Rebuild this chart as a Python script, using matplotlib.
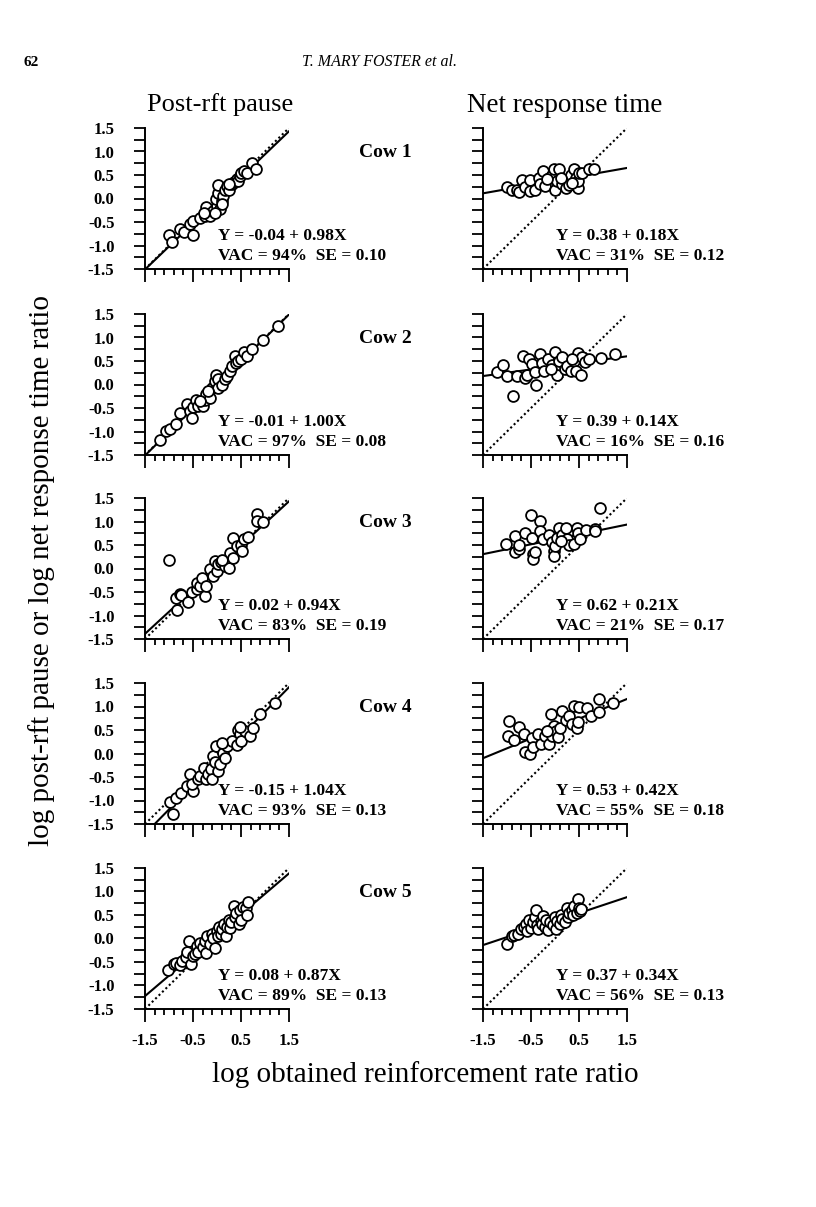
import matplotlib
matplotlib.use("Agg")
import matplotlib.pyplot as plt
import numpy as np
from matplotlib.ticker import MultipleLocator, FixedLocator

plt.rcParams['font.family'] = ['Liberation Serif', 'DejaVu Serif']
plt.rcParams['axes.unicode_minus'] = False

# ---- data (log ratios) ----
cows = ['Cow 1', 'Cow 2', 'Cow 3', 'Cow 4', 'Cow 5']

pause_x = [
    [-1.00, -0.94, -0.77, -0.68, -0.49, -0.56, -0.49, -0.35, -0.25, -0.22, -0.15, -0.08, -0.01, -0.02,
     0.03, 0.03, 0.06, 0.10, 0.13, 0.17, 0.20, 0.26, 0.31, 0.35, 0.41, 0.44, 0.48, 0.51, 0.56, 0.62,
     0.72, 0.81, 0.10, -0.04, -0.28, 0.24],
    [-1.19, -1.06, -0.98, -0.85, -0.78, -0.63, -0.56, -0.53, -0.49, -0.44, -0.39, -0.30, -0.25, -0.22,
     -0.15, -0.11, -0.04, -0.02, 0.03, 0.03, 0.10, 0.17, 0.20, 0.27, 0.31, 0.38, 0.40, 0.44, 0.51,
     0.56, 0.62, 0.72, 0.95, 1.28, -0.35, -0.18],
    [-1.00, -0.83, -0.85, -0.77, -0.74, -0.60, -0.53, -0.42, -0.42, -0.35, -0.31, -0.25, -0.22, -0.15,
     -0.08, -0.04, -0.01, 0.03, 0.08, 0.17, 0.20, 0.26, 0.27, 0.33, 0.34, 0.41, 0.49, 0.53, 0.56,
     0.65, 0.83, 0.83, 0.95, 0.10],
    [-0.92, -0.97, -0.85, -0.74, -0.63, -0.56, -0.49, -0.53, -0.39, -0.35, -0.28, -0.22, -0.18, -0.13,
     -0.11, -0.08, -0.04, -0.02, 0.03, 0.06, 0.13, 0.17, 0.20, 0.31, 0.41, 0.44, 0.48, 0.51, 0.58,
     0.69, 0.76, 0.90, 1.21, 0.47, 0.10],
    [-1.02, -0.90, -0.85, -0.78, -0.72, -0.65, -0.62, -0.58, -0.55, -0.50, -0.45, -0.42, -0.40, -0.35,
     -0.30, -0.25, -0.22, -0.20, -0.15, -0.10, -0.08, -0.05, 0.00, 0.02, 0.05, 0.08, 0.10, 0.15, 0.18,
     0.20, 0.25, 0.28, 0.30, 0.35, 0.38, 0.40, 0.45, 0.48, 0.50, 0.55, 0.60, 0.62, 0.65],
]
pause_y = [
    [-0.78, -0.93, -0.64, -0.72, -0.78, -0.55, -0.48, -0.41, -0.37, -0.19, -0.37, -0.26, -0.16, 0.00,
     0.12, 0.28, -0.23, -0.05, 0.05, 0.19, 0.27, 0.19, 0.30, 0.35, 0.41, 0.37, 0.48, 0.55, 0.58, 0.55,
     0.76, 0.63, -0.12, -0.30, -0.30, 0.30],
    [-1.18, -0.99, -0.95, -0.84, -0.61, -0.41, -0.57, -0.71, -0.48, -0.32, -0.45, -0.45, -0.32, -0.21,
     -0.29, -0.07, 0.07, 0.21, 0.11, -0.07, 0.00, 0.11, 0.18, 0.29, 0.39, 0.61, 0.46, 0.50, 0.54,
     0.69, 0.61, 0.75, 0.95, 1.25, -0.36, -0.14],
    [0.18, -0.88, -0.62, -0.55, -0.57, -0.71, -0.50, -0.44, -0.30, -0.37, -0.21, -0.58, -0.37, 0.00,
     -0.16, 0.16, -0.05, 0.09, 0.14, 0.05, 0.19, 0.02, 0.34, 0.65, 0.23, 0.48, 0.51, 0.37, 0.63,
     0.67, 1.15, 1.01, 0.98, 0.19],
    [-1.29, -1.04, -0.95, -0.83, -0.69, -0.44, -0.79, -0.65, -0.55, -0.48, -0.30, -0.55, -0.44, -0.33,
     -0.55, -0.05, -0.19, 0.16, -0.37, -0.23, 0.02, -0.09, 0.16, 0.26, 0.19, 0.51, 0.41, 0.26, 0.48,
     0.37, 0.55, 0.83, 1.08, 0.56, 0.23],
    [-0.66, -0.55, -0.52, -0.56, -0.48, -0.40, -0.28, -0.05, -0.55, -0.38, -0.32, -0.15, -0.28, -0.10,
     -0.18, -0.05, -0.30, 0.05, -0.12, 0.10, 0.00, -0.20, 0.15, 0.05, 0.25, 0.10, 0.20, 0.30, 0.05,
     0.25, 0.40, 0.22, 0.35, 0.70, 0.45, 0.55, 0.30, 0.60, 0.40, 0.68, 0.65, 0.50, 0.78],
]

net_x = [
    [-1.01, -0.90, -0.80, -0.76, -0.69, -0.62, -0.52, -0.52, -0.41, -0.34, -0.31, -0.24, -0.20, -0.13,
     -0.06, -0.02, 0.01, 0.05, 0.08, 0.15, 0.22, 0.29, 0.33, 0.40, 0.43, 0.47, 0.47, 0.50, 0.57,
     0.71, 0.82, -0.17, 0.12, 0.36],
    [-1.20, -1.08, -1.01, -0.88, -0.80, -0.66, -0.62, -0.59, -0.55, -0.48, -0.41, -0.39, -0.31, -0.27,
     -0.22, -0.15, -0.06, -0.01, 0.01, 0.05, 0.08, 0.15, 0.20, 0.26, 0.33, 0.40, 0.43, 0.47, 0.54,
     0.57, 0.62, 0.71, 0.95, 1.25, 0.36, -0.09],
    [-1.02, -0.83, -0.83, -0.74, -0.74, -0.62, -0.50, -0.48, -0.45, -0.46, -0.41, -0.32, -0.32, -0.24,
     -0.13, -0.06, -0.02, -0.02, 0.01, 0.05, 0.08, 0.15, 0.22, 0.26, 0.29, 0.40, 0.45, 0.48, 0.52,
     0.64, 0.83, 0.83, 0.93, 0.12],
    [-0.95, -0.97, -0.85, -0.74, -0.64, -0.62, -0.52, -0.48, -0.46, -0.36, -0.29, -0.20, -0.13, -0.09,
     -0.09, -0.06, -0.02, 0.03, 0.06, 0.10, 0.15, 0.22, 0.29, 0.36, 0.40, 0.45, 0.48, 0.50, 0.66,
     0.75, 0.92, 0.92, 1.21, -0.16],
    [-1.00, -0.90, -0.85, -0.78, -0.70, -0.65, -0.60, -0.58, -0.55, -0.50, -0.45, -0.42, -0.40, -0.38,
     -0.35, -0.30, -0.28, -0.25, -0.20, -0.18, -0.15, -0.10, -0.05, 0.00, 0.02, 0.05, 0.10, 0.12,
     0.15, 0.20, 0.25, 0.28, 0.30, 0.35, 0.38, 0.40, 0.45, 0.48, 0.50, 0.52, 0.55],
]
net_y = [
    [0.24, 0.19, 0.19, 0.14, 0.39, 0.25, 0.39, 0.16, 0.19, 0.44, 0.30, 0.58, 0.26, 0.44,
     0.49, 0.62, 0.19, 0.37, 0.62, 0.30, 0.23, 0.28, 0.49, 0.63, 0.44, 0.23, 0.37, 0.55, 0.55,
     0.63, 0.63, 0.41, 0.44, 0.34],
    [0.26, 0.41, 0.19, -0.24, 0.18, 0.61, 0.14, 0.21, 0.54, 0.43, 0.26, -0.02, 0.64, 0.46,
     0.29, 0.54, 0.41, 0.69, 0.34, 0.21, 0.50, 0.59, 0.34, 0.39, 0.29, 0.50, 0.29, 0.66, 0.21,
     0.59, 0.48, 0.55, 0.57, 0.64, 0.55, 0.32],
    [0.53, 0.69, 0.35, 0.42, 0.51, 0.76, 1.13, 0.65, 0.30, 0.21, 0.35, 1.01, 0.79, 0.62,
     0.72, 0.56, 0.37, 0.26, 0.48, 0.65, 0.86, 0.72, 0.86, 0.63, 0.51, 0.53, 0.86, 0.76, 0.63,
     0.82, 0.84, 0.79, 1.29, 0.58],
    [0.69, 0.38, 0.28, 0.56, 0.41, 0.04, -0.02, 0.34, 0.14, 0.42, 0.20, 0.37, 0.20, 0.83,
     0.51, 0.37, 0.58, 0.48, 0.35, 0.55, 0.91, 0.72, 0.79, 0.62, 1.01, 0.55, 0.67, 0.98, 0.96,
     0.79, 0.89, 1.15, 1.08, 0.48],
    [-0.12, 0.05, 0.08, 0.10, 0.20, 0.25, 0.30, 0.15, 0.40, 0.22, 0.35, 0.45, 0.60, 0.28,
     0.20, 0.38, 0.30, 0.48, 0.25, 0.40, 0.18, 0.35, 0.28, 0.45, 0.20, 0.38, 0.30, 0.50,
     0.42, 0.35, 0.65, 0.45, 0.55, 0.60, 0.50, 0.70, 0.55, 0.85, 0.65, 0.58, 0.62],
]

pause_fit = [(-0.04, 0.98), (-0.01, 1.00), (0.02, 0.94), (-0.15, 1.04), (0.08, 0.87)]
net_fit = [(0.38, 0.18), (0.39, 0.14), (0.62, 0.21), (0.53, 0.42), (0.37, 0.34)]
pause_stats = [(94, 0.10), (97, 0.08), (83, 0.19), (93, 0.13), (89, 0.13)]
net_stats = [(31, 0.12), (16, 0.16), (21, 0.17), (55, 0.18), (56, 0.13)]

W, H = 816, 1207
fig = plt.figure(figsize=(W / 100, H / 100), dpi=100)

row_tops = [128, 314, 498, 683, 868]
col_lefts = [145, 483]
aw, ah = 144, 141

fig.text(24 / W, 1 - 62 / H, '62', fontsize=11, fontweight='bold', ha='left', va='center')
fig.text(380 / W, 1 - 62 / H, 'T. MARY FOSTER et al.', fontsize=11.5, style='italic',
         ha='center', va='center')
fig.text(220 / W, 1 - 105 / H, 'Post-rft pause', fontsize=19, ha='center', va='center')
fig.text(565 / W, 1 - 105 / H, 'Net response time', fontsize=19.5, ha='center', va='center')
fig.text(425 / W, 1 - 1075 / H, 'log obtained reinforcement rate ratio', fontsize=21,
         ha='center', va='center')
fig.text(42 / W, 1 - 570 / H, 'log post-rft pause or log net response time ratio', fontsize=21,
         rotation=90, ha='center', va='center')

xs = np.array([-1.5, 1.5])
for r in range(5):
    for c in range(2):
        left = col_lefts[c] / W
        bottom = 1 - (row_tops[r] + ah) / H
        ax = fig.add_axes([left, bottom, aw / W, ah / H])
        ax.set_xlim(-1.5, 1.5)
        ax.set_ylim(-1.5, 1.5)
        for s in ['top', 'right']:
            ax.spines[s].set_visible(False)
        for s in ['left', 'bottom']:
            ax.spines[s].set_linewidth(1.4)

        if c == 0:
            px, py = pause_x[r], pause_y[r]
            a, b = pause_fit[r]
            vac, se = pause_stats[r]
        else:
            px, py = net_x[r], net_y[r]
            a, b = net_fit[r]
            vac, se = net_stats[r]

        ax.plot(xs, xs, linestyle=(0, (1, 1.3)), color='black', lw=1.5, zorder=2)
        ax.plot(xs, a + b * xs, color='black', lw=1.5, zorder=2)
        ax.plot(px, py, 'o', ms=7.8, mfc='white', mec='black', mew=1.3, zorder=3, clip_on=False)

        ax.yaxis.set_major_locator(MultipleLocator(0.5))
        ax.yaxis.set_minor_locator(MultipleLocator(0.25))
        ax.xaxis.set_major_locator(FixedLocator([-1.5, -0.5, 0.5, 1.5]))
        ax.xaxis.set_minor_locator(FixedLocator([-1.3, -1.1, -0.9, -0.7, -0.3, -0.1, 0.1, 0.3,
                                                 0.7, 0.9, 1.1, 1.3]))
        ax.tick_params(axis='y', which='both', direction='out', length=8, width=1.3, pad=14)
        ax.tick_params(axis='x', which='major', direction='out', length=9, width=1.3, pad=8)
        ax.tick_params(axis='x', which='minor', direction='out', length=4.5, width=1.3)
        ax.tick_params(labelsize=12)
        for lab in ax.get_xticklabels() + ax.get_yticklabels():
            lab.set_fontweight('bold')
        ax.yaxis.set_major_formatter(plt.FuncFormatter(lambda v, p: '%.1f' % v))
        ax.xaxis.set_major_formatter(plt.FuncFormatter(lambda v, p: '%.1f' % v))
        if c == 1:
            ax.tick_params(axis='y', labelleft=False)
        if r < 4:
            ax.tick_params(axis='x', labelbottom=False)

        ax.text(0.505, 0.234, 'Y = %.2f + %.2fX' % (a, b), transform=ax.transAxes,
                fontsize=12.5, fontweight='bold', ha='left', va='center')
        ax.text(0.505, 0.092, 'VAC = %d%%  SE = %.2f' % (vac, se), transform=ax.transAxes,
                fontsize=12.5, fontweight='bold', ha='left', va='center')
        if c == 0:
            ax.text(1.667, 0.823, cows[r], transform=ax.transAxes, fontsize=14,
                    fontweight='bold', ha='center', va='center')

fig.savefig('out.png', dpi=100)
